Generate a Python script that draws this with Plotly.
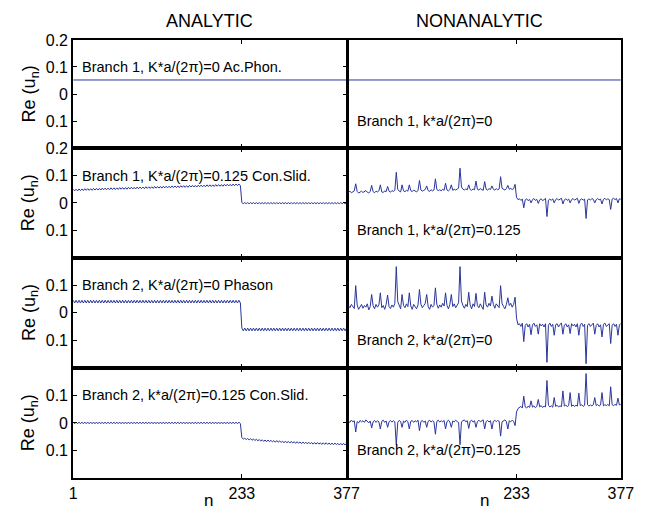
import plotly.graph_objects as go

# ---------------- data ----------------
# sample index n (every second site of the 377-site chain)
n_sites = list(range(1, 378, 2))
n_flat = [1, 377]

# Row 1: Branch 1, K=0 (acoustic phonon) - flat in both panels
re_b1_k0_analytic = [0.052, 0.052]
re_b1_k0_nonanalytic = [0.052, 0.052]

# Row 2 left: Branch 1, K=0.125 Con.Slid. (analytic)
re_b1_k125_analytic = [
    0.050, 0.044, 0.050, 0.044,
    0.051, 0.045, 0.051, 0.045,
    0.052, 0.046, 0.052, 0.046, 0.052, 0.046,
    0.053, 0.047, 0.053, 0.047, 0.053, 0.047,
    0.054, 0.048, 0.054, 0.048, 0.054, 0.048,
    0.055, 0.049, 0.055, 0.049, 0.055, 0.049,
    0.056, 0.050, 0.056, 0.050, 0.056, 0.050,
    0.057, 0.051, 0.057, 0.051, 0.057, 0.051,
    0.058, 0.052, 0.058, 0.052, 0.058, 0.052,
    0.059, 0.053, 0.059, 0.053, 0.059, 0.053,
    0.060, 0.054, 0.060, 0.054, 0.060, 0.054,
    0.061, 0.055, 0.061, 0.055, 0.061, 0.055,
    0.062, 0.056, 0.062, 0.056, 0.062, 0.056,
    0.063, 0.057, 0.063, 0.057, 0.063, 0.057,
    0.064, 0.058, 0.064, 0.058, 0.064, 0.058,
    0.065, 0.059, 0.065, 0.059, 0.065, 0.059,
    0.066, 0.060, 0.066, 0.060, 0.066, 0.060,
    0.067, 0.061, 0.067, 0.061, 0.067, 0.061,
    0.068, 0.062, 0.068, 0.062, 0.068, 0.062,
    0.069, 0.063, 0.069, 0.063, 0.069, 0.063,
    0.001, -0.003, 0.001, -0.003, 0.001, -0.003, 0.001, -0.003, 0.001, -0.003,
    0.001, -0.003, 0.001, -0.003, 0.001, -0.003, 0.001, -0.003, 0.001, -0.003,
    0.001, -0.003, 0.001, -0.003, 0.001, -0.003, 0.001, -0.003, 0.001, -0.003,
    0.001, -0.003, 0.001, -0.003, 0.001, -0.003, 0.001, -0.003, 0.001, -0.003,
    0.001, -0.003, 0.001, -0.003, 0.001, -0.003, 0.001, -0.003, 0.001, -0.003,
    0.001, -0.003, 0.001, -0.003, 0.001, -0.003, 0.001, -0.003, 0.001, -0.003,
    0.001, -0.003, 0.001, -0.003, 0.001, -0.003, 0.001, -0.003, 0.001, -0.003,
    0.001, -0.003, 0.001,
]

# Row 2 right: Branch 1, k=0.125 (nonanalytic)
re_b1_k125_nonanalytic = [
    0.038, 0.043, 0.037, 0.041, 0.044, 0.070, 0.042, 0.036, 0.040, 0.043,
    0.038, 0.041, 0.045, 0.039, 0.036, 0.042, 0.064, 0.041, 0.037, 0.043,
    0.040, 0.044, 0.066, 0.040, 0.038, 0.044, 0.041, 0.060, 0.043, 0.039,
    0.045, 0.042, 0.046, 0.112, 0.050, 0.043, 0.040, 0.066, 0.044, 0.041,
    0.046, 0.043, 0.066, 0.045, 0.041, 0.047, 0.044, 0.040, 0.046, 0.082,
    0.047, 0.043, 0.046, 0.049, 0.062, 0.045, 0.042, 0.048, 0.044, 0.047,
    0.088, 0.049, 0.045, 0.048, 0.044, 0.050, 0.046, 0.072, 0.047, 0.044,
    0.049, 0.066, 0.046, 0.050, 0.047, 0.051, 0.054, 0.127, 0.058, 0.050,
    0.047, 0.051, 0.048, 0.066, 0.049, 0.046, 0.051, 0.048, 0.080, 0.050,
    0.047, 0.052, 0.049, 0.046, 0.078, 0.050, 0.047, 0.052, 0.049, 0.062,
    0.050, 0.047, 0.052, 0.048, 0.051, 0.096, 0.053, 0.049, 0.047, 0.052,
    0.064, 0.050, 0.053, 0.049, 0.052, 0.068,
    0.020, 0.012, 0.015, 0.009, 0.014, -0.018, 0.011, 0.015, 0.008, 0.013,
    0.000, 0.012, 0.016, 0.009, 0.013, -0.002, 0.011, 0.015, 0.008, 0.012,
    0.016, -0.050, 0.010, 0.014, 0.009, 0.015, 0.000, 0.012, 0.016, 0.010,
    0.013, 0.017, -0.004, 0.011, 0.015, 0.009, 0.014, 0.000, 0.012, 0.016,
    0.010, 0.014, 0.017, -0.002, 0.012, 0.015, 0.010, 0.014, -0.057, 0.011,
    0.015, 0.010, 0.016, 0.013, 0.000, 0.012, 0.016, 0.011, 0.014, -0.004,
    0.013, 0.017, 0.011, 0.015, 0.012, -0.024, 0.014, 0.017, 0.012, 0.016,
    0.000, 0.015, 0.013,
]

# Row 3 left: Branch 2, K=0 Phason (analytic)
re_b2_k0_analytic = [
    0.045, 0.035, 0.045, 0.035, 0.045, 0.035, 0.045, 0.035, 0.045, 0.035,
    0.045, 0.035, 0.045, 0.035, 0.045, 0.035, 0.045, 0.035, 0.045, 0.035,
    0.045, 0.035, 0.045, 0.035, 0.045, 0.035, 0.045, 0.035, 0.045, 0.035,
    0.045, 0.035, 0.045, 0.035, 0.045, 0.035, 0.045, 0.035, 0.045, 0.035,
    0.045, 0.035, 0.045, 0.035, 0.045, 0.035, 0.045, 0.035, 0.045, 0.035,
    0.045, 0.035, 0.045, 0.035, 0.045, 0.035, 0.045, 0.035, 0.045, 0.035,
    0.045, 0.035, 0.045, 0.035, 0.045, 0.035, 0.045, 0.035, 0.045, 0.035,
    0.045, 0.035, 0.045, 0.035, 0.045, 0.035, 0.045, 0.035, 0.045, 0.035,
    0.045, 0.035, 0.045, 0.035, 0.045, 0.035, 0.045, 0.035, 0.045, 0.035,
    0.045, 0.035, 0.045, 0.035, 0.045, 0.035, 0.045, 0.035, 0.045, 0.035,
    0.045, 0.035, 0.045, 0.035, 0.045, 0.035, 0.045, 0.035, 0.045, 0.035,
    0.045, 0.035, 0.045, 0.035, 0.045, 0.035,
    -0.056, -0.066, -0.056, -0.066, -0.056, -0.066, -0.056, -0.066, -0.056, -0.066,
    -0.056, -0.066, -0.056, -0.066, -0.056, -0.066, -0.056, -0.066, -0.056, -0.066,
    -0.056, -0.066, -0.056, -0.066, -0.056, -0.066, -0.056, -0.066, -0.056, -0.066,
    -0.056, -0.066, -0.056, -0.066, -0.056, -0.066, -0.056, -0.066, -0.056, -0.066,
    -0.056, -0.066, -0.056, -0.066, -0.056, -0.066, -0.056, -0.066, -0.056, -0.066,
    -0.056, -0.066, -0.056, -0.066, -0.056, -0.066, -0.056, -0.066, -0.056, -0.066,
    -0.056, -0.066, -0.056, -0.066, -0.056, -0.066, -0.056, -0.066, -0.056, -0.066,
    -0.056, -0.066, -0.056,
]

# Row 3 right: Branch 2, k=0 (nonanalytic)
re_b2_k0_nonanalytic = [
    0.025, 0.018, 0.030, 0.022, 0.015, 0.098, 0.028, 0.012, 0.024, 0.030,
    0.016, 0.026, 0.020, 0.032, 0.010, 0.022, 0.066, 0.025, 0.014, 0.030,
    0.020, 0.028, 0.072, 0.018, 0.026, 0.012, 0.030, 0.064, 0.022, 0.015,
    0.028, 0.020, 0.034, 0.167, 0.040, 0.024, 0.014, 0.066, 0.026, 0.018,
    0.032, 0.022, 0.072, 0.024, 0.012, 0.030, 0.020, 0.014, 0.028, 0.084,
    0.030, 0.018, 0.026, 0.034, 0.066, 0.022, 0.012, 0.030, 0.020, 0.026,
    0.090, 0.030, 0.016, 0.028, 0.020, 0.034, 0.024, 0.072, 0.026, 0.014,
    0.030, 0.066, 0.022, 0.032, 0.018, 0.028, 0.036, 0.167, 0.042, 0.026,
    0.016, 0.030, 0.022, 0.074, 0.028, 0.014, 0.032, 0.022, 0.070, 0.026,
    0.018, 0.032, 0.024, 0.012, 0.074, 0.028, 0.020, 0.034, 0.024, 0.060,
    0.030, 0.016, 0.032, 0.024, 0.018, 0.098, 0.034, 0.022, 0.014, 0.030,
    0.054, 0.026, 0.034, 0.020, 0.030, 0.056,
    -0.020, -0.044, -0.040, -0.050, -0.038, -0.105, -0.046, -0.040, -0.052, -0.042,
    -0.080, -0.045, -0.038, -0.050, -0.044, -0.078, -0.040, -0.048, -0.042, -0.052,
    -0.040, -0.180, -0.046, -0.038, -0.050, -0.042, -0.082, -0.044, -0.040, -0.052,
    -0.042, -0.038, -0.078, -0.046, -0.040, -0.052, -0.044, -0.076, -0.040, -0.048,
    -0.042, -0.052, -0.040, -0.082, -0.044, -0.038, -0.050, -0.042, -0.185, -0.046,
    -0.040, -0.050, -0.042, -0.038, -0.078, -0.046, -0.040, -0.052, -0.044, -0.088,
    -0.042, -0.038, -0.050, -0.044, -0.040, -0.112, -0.046, -0.040, -0.050, -0.042,
    -0.082, -0.044, -0.040,
]

# Row 4 left: Branch 2, k=0.125 Con.Slid. (analytic)
re_b2_k125_analytic = [
    0.003, -0.003, 0.003, -0.003, 0.003, -0.003, 0.003, -0.003, 0.003, -0.003,
    0.003, -0.003, 0.003, -0.003, 0.003, -0.003, 0.003, -0.003, 0.003, -0.003,
    0.003, -0.003, 0.003, -0.003, 0.003, -0.003, 0.003, -0.003, 0.003, -0.003,
    0.003, -0.003, 0.003, -0.003, 0.003, -0.003, 0.003, -0.003, 0.003, -0.003,
    0.003, -0.003, 0.003, -0.003, 0.003, -0.003, 0.003, -0.003, 0.003, -0.003,
    0.003, -0.003, 0.003, -0.003, 0.003, -0.003, 0.003, -0.003, 0.003, -0.003,
    0.003, -0.003, 0.003, -0.003, 0.003, -0.003, 0.003, -0.003, 0.003, -0.003,
    0.003, -0.003, 0.003, -0.003, 0.003, -0.003, 0.003, -0.003, 0.003, -0.003,
    0.003, -0.003, 0.003, -0.003, 0.003, -0.003, 0.003, -0.003, 0.003, -0.003,
    0.003, -0.003, 0.003, -0.003, 0.003, -0.003, 0.003, -0.003, 0.003, -0.003,
    0.003, -0.003, 0.003, -0.003, 0.003, -0.003, 0.003, -0.003, 0.003, -0.003,
    0.003, -0.003, 0.003, -0.003, 0.003, -0.003,
    -0.053, -0.059, -0.055, -0.061, -0.056, -0.062, -0.057, -0.063, -0.058, -0.064,
    -0.059, -0.065, -0.060, -0.066, -0.061, -0.067, -0.062, -0.068, -0.062, -0.068,
    -0.063, -0.069, -0.064, -0.070, -0.064, -0.070, -0.065, -0.071, -0.066, -0.072,
    -0.066, -0.072, -0.067, -0.073, -0.067, -0.073, -0.068, -0.074, -0.068, -0.074,
    -0.069, -0.075, -0.069, -0.075, -0.070, -0.076, -0.070, -0.076, -0.071, -0.077,
    -0.071, -0.077, -0.071, -0.077, -0.072, -0.078, -0.072, -0.078, -0.072, -0.078,
    -0.073, -0.079, -0.073, -0.079, -0.073, -0.079, -0.074, -0.080, -0.074, -0.080,
    -0.074, -0.080, -0.074,
]

# Row 4 right: Branch 2, k=0.125 (nonanalytic)
re_b2_k125_nonanalytic = [
    0.006, 0.002, 0.010, 0.004, 0.008, -0.033, 0.005, 0.000, 0.009, 0.004,
    0.008, 0.002, 0.011, 0.005, 0.000, 0.007, -0.018, 0.004, 0.009, 0.002,
    0.008, 0.004, -0.022, 0.006, 0.010, 0.002, 0.007, -0.016, 0.004, 0.009,
    0.003, 0.008, 0.004, -0.079, 0.002, 0.009, 0.005, -0.016, 0.007, 0.002,
    0.010, 0.004, -0.022, 0.006, 0.009, 0.002, 0.008, 0.004, 0.010, -0.028,
    0.005, 0.009, 0.002, 0.007, -0.016, 0.006, 0.010, 0.003, 0.008, 0.004,
    -0.041, 0.006, 0.010, 0.003, 0.008, 0.004, 0.009, -0.022, 0.005, 0.010,
    0.003, -0.016, 0.007, 0.004, 0.010, 0.005, 0.002, -0.079, 0.004, 0.008,
    0.011, 0.004, 0.008, -0.020, 0.006, 0.010, 0.003, 0.008, -0.016, 0.005,
    0.010, 0.004, 0.008, 0.011, -0.022, 0.005, 0.009, 0.003, 0.008, -0.022,
    0.006, 0.010, 0.004, 0.009, 0.006, -0.048, 0.004, 0.009, 0.011, 0.005,
    -0.022, 0.008, 0.004, 0.010, 0.006, -0.010,
    0.040, 0.052, 0.056, 0.060, 0.054, 0.097, 0.058, 0.054, 0.061, 0.056,
    0.080, 0.057, 0.062, 0.055, 0.060, 0.085, 0.058, 0.063, 0.056, 0.061,
    0.058, 0.154, 0.064, 0.058, 0.062, 0.057, 0.092, 0.060, 0.064, 0.058,
    0.062, 0.059, 0.116, 0.061, 0.065, 0.059, 0.063, 0.110, 0.060, 0.065,
    0.060, 0.064, 0.061, 0.108, 0.063, 0.066, 0.060, 0.064, 0.179, 0.066,
    0.061, 0.065, 0.062, 0.066, 0.092, 0.063, 0.067, 0.061, 0.065, 0.110,
    0.062, 0.066, 0.063, 0.067, 0.062, 0.131, 0.066, 0.063, 0.067, 0.064,
    0.090, 0.065, 0.067,
]

panel_labels_left = [
    "Branch 1, K*a/(2\u03c0)=0 Ac.Phon.",
    "Branch 1, K*a/(2\u03c0)=0.125 Con.Slid.",
    "Branch 2, K*a/(2\u03c0)=0 Phason",
    "Branch 2, k*a/(2\u03c0)=0.125 Con.Slid.",
]
panel_labels_right = [
    "Branch 1, k*a/(2\u03c0)=0",
    "Branch 1, k*a/(2\u03c0)=0.125",
    "Branch 2, k*a/(2\u03c0)=0",
    "Branch 2, k*a/(2\u03c0)=0.125",
]
column_titles = ["ANALYTIC", "NONANALYTIC"]
x_tickvals_left = [1, 233, 377]
x_ticktext_left = ["1", "233", "377"]
x_tickvals_right = [233, 377]
x_ticktext_right = ["233", "377"]
y_tickvals_top = [-0.2, -0.1, 0, 0.1, 0.2]
y_ticktext_top = ["0.2", "0.1", "0", "0.1", "0.2"]
y_tickvals = [-0.1, 0, 0.1]
y_ticktext = ["0.1", "0", "0.1"]

series = [
    [(n_flat, re_b1_k0_analytic), (n_flat, re_b1_k0_nonanalytic)],
    [(n_sites, re_b1_k125_analytic), (n_sites, re_b1_k125_nonanalytic)],
    [(n_sites, re_b2_k0_analytic), (n_sites, re_b2_k0_nonanalytic)],
    [(n_sites, re_b2_k125_analytic), (n_sites, re_b2_k125_nonanalytic)],
]
for row in series:
    for xs, ys in row:
        if len(xs) != len(ys):
            raise ValueError(f"length mismatch {len(xs)} vs {len(ys)}")

# ---------------- layout ----------------
W, H = 666, 518
FONT = "Liberation Sans, Arial, Helvetica, sans-serif"
LINE_COLOR = "#2a369a"
COLS_PX = [(71, 351.5), (353.5, 633)]
ROWS_PX = [(33, 145), (145, 258), (258, 372), (372, 486)]
TICK_SIZE = 16
LABEL_SIZE = 14.5
TITLE_SIZE = 18


def fx(p):
    return p / W


def fy(p):
    return 1 - p / H


fig = go.Figure()
layout = dict(
    width=W, height=H, margin=dict(l=0, r=0, t=0, b=0),
    paper_bgcolor="white", plot_bgcolor="white", showlegend=False,
    font=dict(family=FONT, color="black"),
)
annotations = []

for r in range(4):
    for c in range(2):
        k = 2 * r + c + 1
        sx = "" if k == 1 else str(k)
        xs, ys = series[r][c]
        fig.add_trace(go.Scatter(
            x=xs, y=ys, mode="lines", xaxis="x" + sx, yaxis="y" + sx,
            line=dict(color=LINE_COLOR, width=1), hoverinfo="skip",
        ))
        x0, x1 = COLS_PX[c]
        y0, y1 = ROWS_PX[r]
        layout["xaxis" + sx] = dict(
            domain=[fx(x0), fx(x1)], range=[1, 377], anchor="y" + sx,
            tickmode="array",
            tickvals=x_tickvals_left if c == 0 else x_tickvals_right,
            ticktext=x_ticktext_left if c == 0 else x_ticktext_right,
            showticklabels=(r == 3), ticks="inside", ticklen=4, tickwidth=1,
            tickcolor="black", showline=True, linecolor="black", linewidth=2,
            mirror="ticks", showgrid=False, zeroline=False,
            tickfont=dict(size=TICK_SIZE, family=FONT, color="black"),
        )
        if c == 0:
            tv = y_tickvals_top if r == 0 else y_tickvals
            tt = y_ticktext_top if r == 0 else y_ticktext
            layout["yaxis" + sx] = dict(
                domain=[fy(y1), fy(y0)], range=[-0.2, 0.2], anchor="x" + sx,
                tickmode="array", tickvals=tv, ticktext=tt,
                ticks="inside", ticklen=4, tickwidth=1, tickcolor="black",
                showline=True, linecolor="black", linewidth=2, mirror="ticks",
                showgrid=False, zeroline=False,
                tickfont=dict(size=TICK_SIZE, family=FONT, color="black"),
            )
        else:
            layout["yaxis" + sx] = dict(
                domain=[fy(y1), fy(y0)], range=[-0.2, 0.2], anchor="x" + sx,
                showticklabels=False, ticks="",
                showline=True, linecolor="black", linewidth=2, mirror=True,
                showgrid=False, zeroline=False,
            )
        # panel label
        if c == 0:
            annotations.append(dict(
                text=panel_labels_left[r], x=10, y=0.1,
                xref="x" + sx, yref="y" + sx, xanchor="left", yanchor="middle",
                showarrow=False,
                font=dict(size=LABEL_SIZE, family=FONT, color="black"),
            ))
        else:
            annotations.append(dict(
                text=panel_labels_right[r], x=9.5, y=-0.1,
                xref="x" + sx, yref="y" + sx, xanchor="left", yanchor="middle",
                showarrow=False,
                font=dict(size=LABEL_SIZE, family=FONT, color="black"),
            ))
    # y title per row
    y0, y1 = ROWS_PX[r]
    annotations.append(dict(
        text="Re (u<sub>n</sub>)", x=fx(27), y=fy((y0 + y1) / 2),
        xref="paper", yref="paper", xanchor="center", yanchor="middle",
        textangle=-90, showarrow=False,
        font=dict(size=18, family=FONT, color="black"),
    ))

# column titles
for cx, title in zip([211, 488], column_titles):
    annotations.append(dict(
        text=title, x=fx(cx), y=fy(13), xref="paper", yref="paper",
        xanchor="center", yanchor="middle", showarrow=False,
        font=dict(size=TITLE_SIZE, family=FONT, color="black"),
    ))
# x titles
for cx in [210, 493]:
    annotations.append(dict(
        text="n", x=fx(cx), y=fy(509), xref="paper", yref="paper",
        xanchor="center", yanchor="middle", showarrow=False,
        font=dict(size=17, family=FONT, color="black"),
    ))

layout["annotations"] = annotations
fig.update_layout(**layout)
fig.write_html("out.html")
